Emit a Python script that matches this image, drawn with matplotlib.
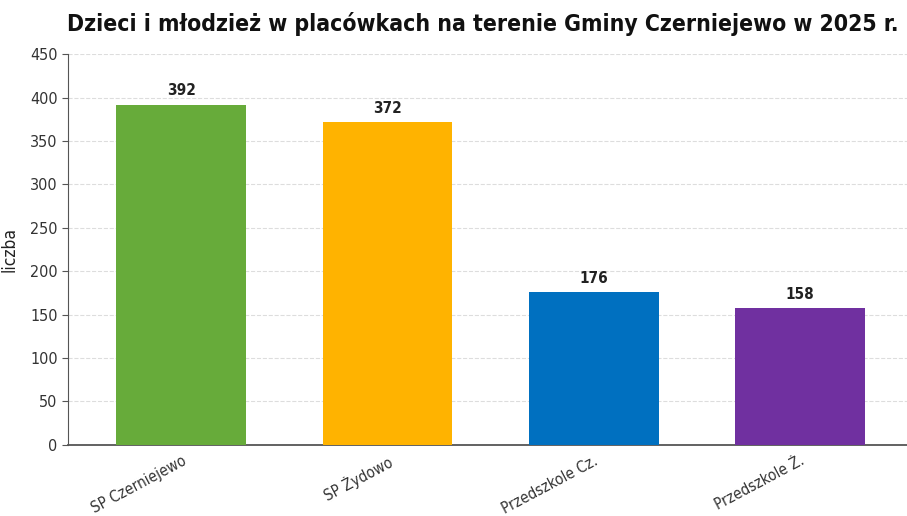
import matplotlib
matplotlib.use("Agg")
import matplotlib.pyplot as plt

# data
categories = ["SP Czerniejewo", "SP Żydowo", "Przedszkole Cz.", "Przedszkole Ż."]
values = [392, 372, 176, 158]
colors = ["#67AB3A", "#FFB300", "#0070C0", "#7030A0"]

TITLE = "Dzieci i młodzież w placówkach na terenie Gminy Czerniejewo w 2025 r."


def main():
    plt.rcParams["font.family"] = ["DejaVu Sans"]
    plt.rcParams["font.stretch"] = "condensed"

    fig = plt.figure(figsize=(9.07, 5.16), dpi=100)
    ax = fig.add_axes([0.075, 0.138, 0.925, 0.757])

    x = list(range(len(categories)))
    bars = ax.bar(x, values, width=0.63, color=colors, zorder=3)

    for b, v in zip(bars, values):
        ax.text(b.get_x() + b.get_width() / 2, v + 7, str(v),
                ha="center", va="bottom", fontsize=11, fontweight="bold",
                color="#222222")

    ax.set_xlim(-0.55, 3.52)
    ax.set_ylim(0, 450)
    ax.set_yticks(range(0, 451, 50))
    ax.set_xticks(x)
    ax.set_xticklabels(categories, rotation=28, ha="right",
                       rotation_mode="anchor", fontsize=11, color="#333333")
    ax.tick_params(axis="x", length=0, pad=6)
    ax.tick_params(axis="y", labelsize=11.5, colors="#333333", length=4,
                   color="#555555")

    ax.set_ylabel("liczba", fontsize=12.5, color="#222222", labelpad=8)

    ax.grid(axis="y", linestyle="--", color="#dddddd", linewidth=0.8, zorder=0)
    for s in ("top", "right"):
        ax.spines[s].set_visible(False)
    ax.spines["left"].set_color("#555555")
    ax.spines["bottom"].set_color("#555555")
    ax.spines["bottom"].set_linewidth(1.3)

    fig.text(0.532, 0.953, TITLE, ha="center", va="center",
             fontsize=16.5, fontweight="bold", color="#111111")

    fig.savefig("out.png", dpi=100)
    plt.close(fig)


if __name__ == "__main__":
    main()
